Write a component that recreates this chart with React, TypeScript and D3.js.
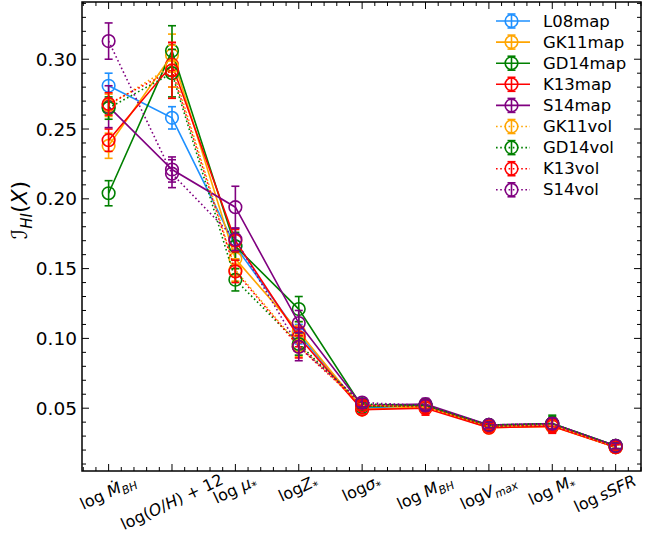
import React, { useEffect, useRef } from 'react';
import * as d3 from 'd3';

// categories (x axis), each label is a list of [text, italic, subscript] parts
const categories: [string, boolean, boolean][][] = [
  [['log ', false, false], ['Ṁ', true, false], ['BH', true, true]],
  [['log(', false, false], ['O', true, false], ['/', false, false], ['H', true, false], [') + 12', false, false]],
  [['log ', false, false], ['μ', true, false], ['*', false, true]],
  [['log', false, false], ['Z', true, false], ['*', false, true]],
  [['log', false, false], ['σ', true, false], ['*', false, true]],
  [['log ', false, false], ['M', true, false], ['BH', true, true]],
  [['log', false, false], ['V', true, false], ['max', true, true]],
  [['log ', false, false], ['M', true, false], ['*', false, true]],
  [['log', false, false], ['\u2009sSFR', true, false]],
];

const seriesNames = ['L08map', 'GK11map', 'GD14map', 'K13map', 'S14map', 'GK11vol', 'GD14vol', 'K13vol', 'S14vol'];

const L08map = [0.281, 0.258, 0.166, 0.103, 0.050, 0.052, 0.037, 0.038, 0.022];
const GK11map = [0.238, 0.303, 0.157, 0.105, 0.049, 0.051, 0.036, 0.037, 0.022];
const GD14map = [0.204, 0.306, 0.166, 0.121, 0.051, 0.052, 0.037, 0.039, 0.023];
const K13map = [0.242, 0.296, 0.170, 0.101, 0.049, 0.050, 0.036, 0.037, 0.022];
const S14map = [0.266, 0.221, 0.194, 0.111, 0.052, 0.053, 0.038, 0.039, 0.023];
const GK11vol = [0.267, 0.295, 0.149, 0.095, 0.052, 0.051, 0.037, 0.038, 0.022];
const GD14vol = [0.265, 0.290, 0.142, 0.096, 0.053, 0.052, 0.038, 0.039, 0.023];
const K13vol = [0.268, 0.292, 0.148, 0.094, 0.052, 0.051, 0.037, 0.038, 0.022];
const S14vol = [0.313, 0.218, 0.171, 0.094, 0.054, 0.052, 0.038, 0.039, 0.023];

const L08mapErr = [0.009, 0.008, 0.009, 0.007, 0.003, 0.004, 0.002, 0.004, 0.002];
const GK11mapErr = [0.009, 0.015, 0.007, 0.007, 0.003, 0.004, 0.002, 0.004, 0.002];
const GD14mapErr = [0.009, 0.018, 0.010, 0.009, 0.003, 0.004, 0.002, 0.006, 0.002];
const K13mapErr = [0.008, 0.016, 0.008, 0.007, 0.003, 0.005, 0.002, 0.005, 0.002];
const S14mapErr = [0.015, 0.009, 0.015, 0.009, 0.003, 0.004, 0.002, 0.004, 0.002];
const GK11volErr = [0.008, 0.015, 0.008, 0.008, 0.003, 0.004, 0.002, 0.004, 0.002];
const GD14volErr = [0.008, 0.017, 0.008, 0.008, 0.003, 0.004, 0.002, 0.005, 0.002];
const K13volErr = [0.008, 0.020, 0.008, 0.008, 0.003, 0.005, 0.002, 0.005, 0.002];
const S14volErr = [0.013, 0.010, 0.008, 0.010, 0.003, 0.004, 0.002, 0.004, 0.002];

const yTicks = [0.05, 0.10, 0.15, 0.20, 0.25, 0.30];

const values = [L08map, GK11map, GD14map, K13map, S14map, GK11vol, GD14vol, K13vol, S14vol];
const errors = [L08mapErr, GK11mapErr, GD14mapErr, K13mapErr, S14mapErr, GK11volErr, GD14volErr, K13volErr, S14volErr];

const colors: Record<string, string> = {
  L08: '#1e90ff', GK11: '#ffa500', GD14: '#008000', K13: '#ff0000', S14: '#800080',
};

const FONT = 'DejaVu Sans';

const App = () => {
  const ref = useRef<SVGSVGElement | null>(null);

  useEffect(() => {
    const width = 649;
    const height = 535;
    const left = 82, right = 641, top = 2, bottom = 471;

    const svg = d3.select(ref.current);
    svg.selectAll('*').remove();

    const x = d3.scaleLinear().domain([-0.42, 8.4]).range([left, right]);
    const y = d3.scaleLinear().domain([0.005, 0.341]).range([bottom, top]);

    const data = seriesNames.map((name, i) => ({
      name,
      color: colors[name.replace(/(map|vol)$/, '')],
      dotted: name.endsWith('vol'),
      pts: values[i].map((v, j) => ({ j, v, e: errors[i][j] })),
    }));

    const line = d3.line<{ j: number; v: number }>().x(d => x(d.j)).y(d => y(d.v));
    const plot = svg.append('g');

    data.forEach(s => {
      const g = plot.append('g');
      g.append('path')
        .attr('d', line(s.pts))
        .attr('fill', 'none')
        .attr('stroke', s.color)
        .attr('stroke-width', 1.6)
        .attr('stroke-dasharray', s.dotted ? '1.6,2.6' : null);
      const eb = g.selectAll('g.eb').data(s.pts).enter().append('g').attr('stroke', s.color).attr('stroke-width', 1.6);
      eb.append('line')
        .attr('x1', d => x(d.j)).attr('x2', d => x(d.j))
        .attr('y1', d => y(d.v - d.e)).attr('y2', d => y(d.v + d.e));
      [-1, 1].forEach(k => {
        eb.append('line')
          .attr('x1', d => x(d.j) - 4).attr('x2', d => x(d.j) + 4)
          .attr('y1', d => y(d.v + k * d.e)).attr('y2', d => y(d.v + k * d.e));
      });
      eb.append('circle')
        .attr('cx', d => x(d.j)).attr('cy', d => y(d.v))
        .attr('r', 6.3).attr('fill', 'none');
    });

    // frame
    svg.append('rect')
      .attr('x', left).attr('y', top).attr('width', right - left).attr('height', bottom - top)
      .attr('fill', 'none').attr('stroke', 'black').attr('stroke-width', 1.5);

    const ticks = svg.append('g').attr('stroke', 'black').attr('stroke-width', 1);
    const xMinor = d3.range(-0.4, 8.41, 0.2).map(v => Math.round(v * 10) / 10);
    xMinor.forEach(v => {
      const major = Math.abs(v - Math.round(v)) < 1e-6 && v >= 0;
      const len = major ? 7 : 4;
      ticks.append('line').attr('x1', x(v)).attr('x2', x(v)).attr('y1', bottom).attr('y2', bottom - len);
      ticks.append('line').attr('x1', x(v)).attr('x2', x(v)).attr('y1', top).attr('y2', top + len);
    });
    const yMinor = d3.range(0.01, 0.341, 0.01).map(v => Math.round(v * 100) / 100);
    yMinor.forEach(v => {
      const major = yTicks.some(t => Math.abs(t - v) < 1e-6);
      const len = major ? 7 : 4;
      ticks.append('line').attr('y1', y(v)).attr('y2', y(v)).attr('x1', left).attr('x2', left + len);
      ticks.append('line').attr('y1', y(v)).attr('y2', y(v)).attr('x1', right).attr('x2', right - len);
    });

    svg.append('g').selectAll('text').data(yTicks).enter().append('text')
      .attr('x', left - 5).attr('y', d => y(d))
      .attr('text-anchor', 'end').attr('dominant-baseline', 'central')
      .attr('font-family', FONT).attr('font-size', 18.5)
      .text(d => d.toFixed(2));

    // x tick labels, rotated around their centre, top aligned below axis
    const theta = 25;
    const rad = theta * Math.PI / 180;
    const fs = 16;
    categories.forEach((parts, i) => {
      const t = svg.append('text')
        .attr('font-family', FONT).attr('font-size', fs).attr('text-anchor', 'middle');
      parts.forEach(([txt, it, sub]) => {
        t.append('tspan')
          .attr('font-style', it ? 'italic' : 'normal')
          .attr('font-size', sub ? 11.2 : fs)
          .attr('dy', sub ? 3.5 : 0)
          .text(txt);
      });
      const bb = (t.node() as SVGTextElement).getBBox();
      const H = bb.width * Math.sin(rad) + bb.height * Math.cos(rad);
      const W = bb.width * Math.cos(rad) + bb.height * Math.sin(rad);
      const cy = Math.min(471 + H / 2, height - 1 - H / 2);
      const cx = Math.min(x(i), width - 10 - W / 2);
      t.attr('transform', `translate(${cx},${cy}) rotate(${-theta}) translate(${-(bb.x + bb.width / 2)},${-(bb.y + bb.height / 2)})`);
    });

    // y axis label
    const yl = svg.append('text')
      .attr('transform', 'translate(27,210) rotate(-90)')
      .attr('text-anchor', 'middle')
      .attr('font-family', FONT).attr('font-size', 22);
    yl.append('tspan').attr('font-style', 'italic').text('ℐ');
    yl.append('tspan').attr('font-style', 'italic').attr('font-size', 15).attr('dy', 5).text('HI');
    yl.append('tspan').attr('dy', -5).text('(');
    yl.append('tspan').attr('font-style', 'italic').text('X');
    yl.append('tspan').text(')');

    // legend
    const lg = svg.append('g');
    data.forEach((s, i) => {
      const ly = 21 + i * 21.1;
      const g = lg.append('g').attr('stroke', s.color).attr('stroke-width', 1.6);
      g.append('line').attr('x1', 496).attr('x2', 530).attr('y1', ly).attr('y2', ly)
        .attr('stroke-dasharray', s.dotted ? '1.6,2.6' : null);
      g.append('line').attr('x1', 511.5).attr('x2', 511.5).attr('y1', ly - 7).attr('y2', ly + 7);
      g.append('line').attr('x1', 507.5).attr('x2', 515.5).attr('y1', ly - 7).attr('y2', ly - 7);
      g.append('line').attr('x1', 507.5).attr('x2', 515.5).attr('y1', ly + 7).attr('y2', ly + 7);
      g.append('circle').attr('cx', 511.5).attr('cy', ly).attr('r', 6.3).attr('fill', 'none');
      lg.append('text').attr('x', 543).attr('y', ly).attr('dominant-baseline', 'central')
        .attr('font-family', FONT).attr('font-size', 16.5).text(s.name);
    });

    svg.attr('width', width).attr('height', height);
  }, []);

  return (
    <div style={{ position: 'absolute', left: 0, top: 0 }}>
      <svg ref={ref} width={649} height={535} style={{ display: 'block', background: 'white' }} />
    </div>
  );
};

export default App;
